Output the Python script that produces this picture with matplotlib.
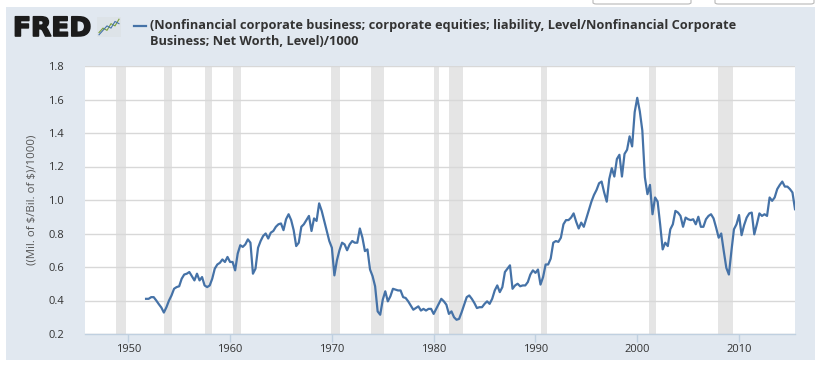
#! /usr/bin/env python
'''
Corporate equities / net worth ratio, FRED style graph
'''
import numpy as np
import pandas as pd
import matplotlib
matplotlib.use('Agg')
import matplotlib.pyplot as plt
import matplotlib.dates as mdates
import matplotlib.patheffects as pe
from matplotlib.patches import FancyBboxPatch

first_quarter = '1951-10-01'
ratio = [0.41,
         0.41, 0.42, 0.42, 0.40,  0.378, 0.358, 0.328, 0.36,  0.40, 0.43, 0.47, 0.48,
         0.485, 0.53, 0.555, 0.56,  0.57, 0.545, 0.52, 0.56,  0.52, 0.54, 0.49, 0.48,
         0.49, 0.53, 0.59, 0.615,  0.625, 0.645, 0.63, 0.66,  0.63, 0.63, 0.58, 0.68,
         0.73, 0.72, 0.735, 0.765,  0.745, 0.56, 0.59, 0.715,  0.755, 0.785, 0.80, 0.77,
         0.805, 0.815, 0.84, 0.855,  0.86, 0.82, 0.885, 0.915,  0.88, 0.82, 0.725, 0.745,
         0.84, 0.855, 0.88, 0.905,  0.815, 0.89, 0.875, 0.98,  0.935, 0.875, 0.815, 0.755,
         0.715, 0.55, 0.64, 0.70,  0.745, 0.735, 0.70, 0.735,  0.755, 0.745, 0.745, 0.83,
         0.775, 0.695, 0.705, 0.585,  0.545, 0.485, 0.335, 0.315,  0.405, 0.455, 0.395, 0.425,
         0.47, 0.465, 0.46, 0.46,  0.42, 0.415, 0.395, 0.37,  0.345, 0.355, 0.365, 0.34,
         0.35, 0.34, 0.35, 0.35,  0.32, 0.35, 0.38, 0.41,  0.395, 0.375, 0.32, 0.335,
         0.30, 0.285, 0.29, 0.33,  0.375, 0.42, 0.43, 0.41,  0.385, 0.355, 0.36, 0.36,
         0.38, 0.395, 0.38, 0.41,  0.46, 0.49, 0.45, 0.48,  0.57, 0.59, 0.61, 0.47,
         0.49, 0.50, 0.485, 0.49,  0.49, 0.51, 0.555, 0.58,  0.565, 0.585, 0.495, 0.54,
         0.615, 0.615, 0.65, 0.745,  0.755, 0.75, 0.775, 0.855,  0.88, 0.88, 0.895, 0.92,
         0.87, 0.83, 0.865, 0.84,  0.89, 0.94, 0.99, 1.03,  1.06, 1.10, 1.11, 1.045,
         0.99, 1.125, 1.19, 1.14,  1.245, 1.27, 1.14, 1.275,  1.30, 1.38, 1.32, 1.525,
         1.61, 1.53, 1.415, 1.135,  1.035, 1.09, 0.915, 1.015,  0.99, 0.855, 0.705, 0.745,
         0.725, 0.825, 0.855, 0.935,  0.925, 0.905, 0.84, 0.895,  0.885, 0.88, 0.885, 0.855,
         0.90, 0.84, 0.84, 0.885,  0.905, 0.915, 0.89, 0.835,  0.775, 0.80, 0.695, 0.595,
         0.555, 0.695, 0.825, 0.855,  0.91, 0.79, 0.85, 0.895,  0.92, 0.925, 0.795, 0.855,
         0.92, 0.905, 0.915, 0.905,  1.015, 0.995, 1.015, 1.065,  1.09, 1.11, 1.08, 1.08,
         1.065, 1.045, 0.945]

rec_start = ['1948-11-01', '1953-07-01', '1957-08-01', '1960-04-01', '1969-12-01', '1973-11-01',
             '1980-01-01', '1981-07-01', '1990-07-01', '2001-03-01', '2007-12-01']
rec_end = ['1949-10-01', '1954-05-01', '1958-04-01', '1961-02-01', '1970-11-01', '1975-03-01',
           '1980-07-01', '1982-11-01', '1991-03-01', '2001-11-01', '2009-06-01']

yticks = [0.2, 0.4, 0.6, 0.8, 1.0, 1.2, 1.4, 1.6, 1.8]
series_name = ('(Nonfinancial corporate business; corporate equities; liability, Level/Nonfinancial Corporate\n'
               'Business; Net Worth, Level)/1000')
ylab = r'((Mil. of \$/Bil. of \$)/1000)'


def DoFig(filename):
    plt.rc('font', family=['Open Sans', 'DejaVu Sans'])
    W, H = 822, 365
    fig = plt.figure(figsize=(W / 100., H / 100.), dpi=100)
    fig.patch.set_facecolor('white')

    # background panel and the two input boxes at top right
    bg = fig.add_axes([6. / W, 1 - 360. / H, 809. / W, 353. / H], zorder=-10)
    bg.set_facecolor('#e1e8f0')
    bg.set_xticks([])
    bg.set_yticks([])
    for sp in bg.spines.values():
        sp.set_visible(False)
    for x0, x1 in [(593, 691), (715, 814)]:
        fig.patches.append(FancyBboxPatch((x0 / float(W), 1 - 4. / H), (x1 - x0) / float(W), 6. / H,
                                          boxstyle='round,pad=0,rounding_size=0.004',
                                          transform=fig.transFigure, facecolor='white',
                                          edgecolor='#b8b8b8', lw=0.8, zorder=1))

    ax = fig.add_axes([85. / W, 1 - 334. / H, 710. / W, 268. / H])
    ax.set_facecolor('white')

    dates = pd.date_range(first_quarter, periods=len(ratio), freq='QS')
    for s, e in zip(rec_start, rec_end):
        ax.axvspan(pd.Timestamp(s), pd.Timestamp(e), color='#e5e5e5', lw=0, zorder=0)
    ax.plot(dates, ratio, color='#4572a7', lw=1.6, zorder=3, solid_joinstyle='round')

    ax.set_xlim(pd.Timestamp('1945-10-01'), pd.Timestamp('2015-07-01'))
    ax.set_ylim(0.2, 1.8)
    ax.set_yticks(yticks)
    ax.set_yticklabels(['%.1f' % v for v in yticks])
    ax.yaxis.grid(True, color='#d8d8d8', lw=1)
    ax.set_axisbelow(True)
    ax.xaxis.set_major_locator(mdates.YearLocator(10))
    ax.xaxis.set_major_formatter(mdates.DateFormatter('%Y'))

    for side in ['top', 'right', 'left']:
        ax.spines[side].set_visible(False)
    ax.spines['bottom'].set_color('#c0d0e0')
    ax.spines['bottom'].set_linewidth(1)
    ax.tick_params(axis='y', length=0, pad=15, labelsize=8, labelcolor='#333333')
    ax.tick_params(axis='x', length=6, width=1, color='#c0d0e0', pad=1, labelsize=8, labelcolor='#333333')
    ax.set_ylabel(ylab, fontsize=8.2, color='#555555', labelpad=8)

    # header: logo, icon, legend
    fig.text(13. / W, 1 - 29. / H, 'FRED', fontsize=19, fontweight='heavy', family='DejaVu Sans',
             color='#1c1c1c', va='center', ha='left',
             path_effects=[pe.withStroke(linewidth=1.2, foreground='#1c1c1c')])
    ic = fig.add_axes([97. / W, 1 - 37. / H, 24. / W, 20. / H])
    ic.set_facecolor('#dde3e8')
    ic.plot([0, 1, 2, 3, 4, 5], [1, 2, 1.5, 3, 2.5, 4], color='#7aa03c', lw=0.8)
    ic.plot([0, 1, 2, 3, 4, 5], [0.5, 1.5, 2.5, 2, 3.5, 3], color='#4572a7', lw=0.8)
    ic.set_xlim(-0.5, 5.5)
    ic.set_ylim(0, 4.5)
    ic.set_xticks([])
    ic.set_yticks([])
    for sp in ic.spines.values():
        sp.set_visible(False)

    fig.lines.append(plt.Line2D([134. / W, 146. / W], [1 - 26. / H, 1 - 26. / H], transform=fig.transFigure,
                                color='#4572a7', lw=1.6))
    fig.text(150. / W, 1 - 19. / H, series_name, fontsize=9.2, fontweight='bold', color='#333333',
             va='top', ha='left', linespacing=1.3)

    fig.savefig(filename, dpi=100, facecolor='white')


if __name__ == '__main__':
    DoFig('out.png')
